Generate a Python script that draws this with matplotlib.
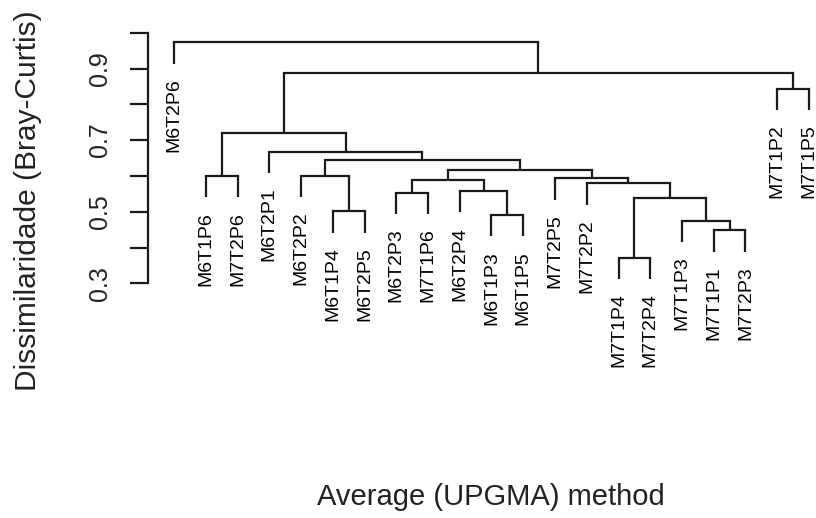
import matplotlib
matplotlib.use("Agg")
import matplotlib.pyplot as plt

# ---- data ----
leaf_labels = ["M6T2P6", "M6T1P6", "M7T2P6", "M6T2P1", "M6T2P2", "M6T1P4", "M6T2P5",
               "M6T2P3", "M7T1P6", "M6T2P4", "M6T1P3", "M6T1P5", "M7T2P5", "M7T2P2",
               "M7T1P4", "M7T2P4", "M7T1P3", "M7T1P1", "M7T2P3", "M7T1P2", "M7T1P5"]
# R-style merge matrix: negative = leaf (1-based, in plot order), positive = earlier merge step
merge_left = [-15, -18, -17, -11, -6, 1, -8, -10, -14, 7, -13, -2, -5, 10, 13, -4, 12, -20, 17, -1]
merge_right = [-16, -19, 2, -12, -7, 3, -9, 4, 6, 8, 9, -3, 5, 11, 14, 15, 16, -21, 18, 19]
merge_height = [0.372, 0.449, 0.475, 0.491, 0.502, 0.537, 0.553, 0.558, 0.579, 0.589, 0.593,
                0.600, 0.601, 0.6165, 0.645, 0.668, 0.720, 0.844, 0.887, 0.974]
ytick_values = [0.3, 0.4, 0.5, 0.6, 0.7, 0.8, 0.9, 1.0]
ytick_labels = ["0.3", "", "0.5", "", "0.7", "", "0.9", ""]

plt.rcParams['font.family'] = ['Liberation Sans', 'DejaVu Sans']

W, H = 816, 518
fig = plt.figure(figsize=(W / 100, H / 100), dpi=100)
# axes placed so that leaf 1 -> x=174px, leaf 21 -> 809px ; 0.3 -> y=283px, 1.0 -> y=33px
ax_left_px, ax_right_px, ax_top_px, ax_bot_px = 140, 816, 20, 400
ax = fig.add_axes([ax_left_px / W, 1 - ax_bot_px / H,
                   (ax_right_px - ax_left_px) / W, (ax_bot_px - ax_top_px) / H])
pxx = (809 - 174) / 20.0
pxy = (283.3 - 32.7) / 0.7
ax.set_xlim(1 + (ax_left_px - 174) / pxx, 21 + (ax_right_px - 809) / pxx)
ax.set_ylim(0.3 - (ax_bot_px - 283.3) / pxy, 1.0 + (32.7 - ax_top_px) / pxy)

hang = 0.1 * (max(merge_height) - min(merge_height))
lw = 1.6
col = "#1a1a1a"

node_x = {}
def child_info(c):
    if c < 0:
        return abs(c), None
    return node_x[c], merge_height[c - 1]

for i, (l, r, h) in enumerate(zip(merge_left, merge_right, merge_height), start=1):
    xl, hl = child_info(l)
    xr, hr = child_info(r)
    ax.plot([xl, xr], [h, h], color=col, lw=lw, solid_capstyle='projecting')
    for xc, hc, c in ((xl, hl, l), (xr, hr, r)):
        bottom = hc if hc is not None else h - hang
        ax.plot([xc, xc], [h, bottom], color=col, lw=lw, solid_capstyle='butt')
        if c < 0:
            ax.annotate(leaf_labels[abs(c) - 1], xy=(xc, h - hang), xytext=(0, -10.4),
                        textcoords='offset points', rotation=90, ha='center', va='top',
                        fontsize=14.0, color='black', annotation_clip=False)
    node_x[i] = (xl + xr) / 2.0

for s in ['top', 'right', 'bottom']:
    ax.spines[s].set_visible(False)
ax.spines['left'].set_position(('data', 1 + (148 - 174) / pxx))
ax.spines['left'].set_bounds(0.3, 1.0)
ax.spines['left'].set_linewidth(lw)
ax.spines['left'].set_color(col)
ax.set_xticks([])
ax.set_yticks(ytick_values)
ax.set_yticklabels(ytick_labels, rotation=90, va='center', fontsize=18, color='#222222')
ax.tick_params(axis='y', direction='out', length=13, width=lw, pad=13, color=col)
ax.patch.set_alpha(0)

fig.text(28 / W, 1 - 201 / H, "Dissimilaridade (Bray-Curtis)", rotation=90,
         ha='center', va='center', fontsize=21.5, color='#222222')
fig.text(491 / W, 1 - 497 / H, "Average (UPGMA) method", ha='center', va='center',
         fontsize=21, color='#222222')

fig.savefig("out.png", dpi=100)
